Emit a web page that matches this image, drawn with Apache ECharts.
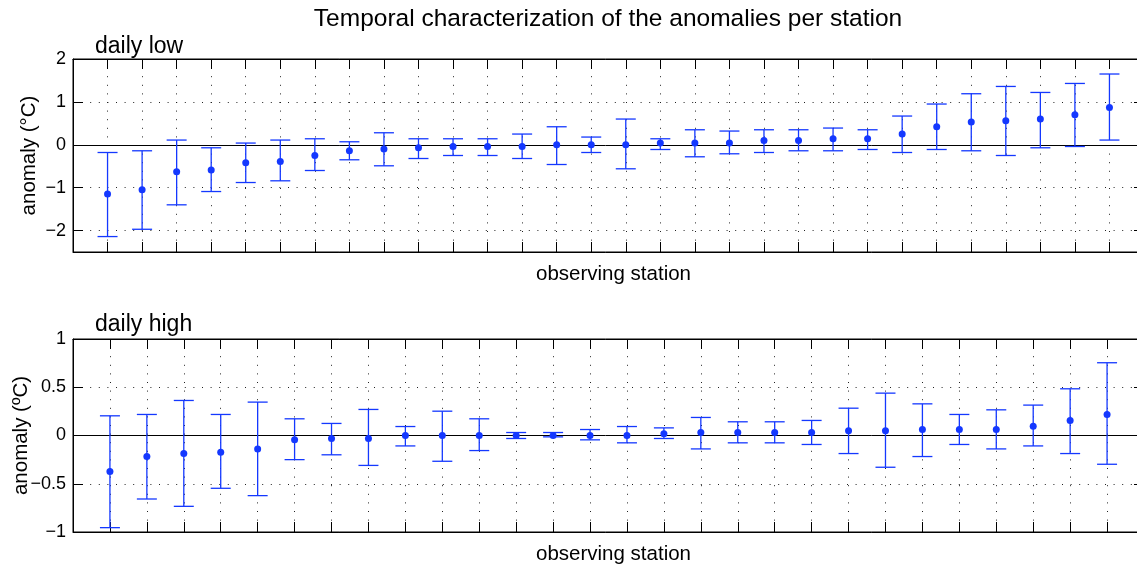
<!DOCTYPE html>
<html>
<head>
<meta charset="utf-8">
<script src="https://cdn.jsdelivr.net/npm/echarts@6/dist/echarts.min.js"></script>
<style>
html,body{margin:0;padding:0;background:#fff;}
#chart{width:1137px;height:568px;}
</style>
</head>
<body>
<div id="chart"></div>
<script>
// ---- data: daily low (30 stations) ----
const lowStations = [1,2,3,4,5,6,7,8,9,10,11,12,13,14,15,16,17,18,19,20,21,22,23,24,25,26,27,28,29,30];
const lowMean  = [-1.15,-1.05,-0.63,-0.59,-0.42,-0.39,-0.25,-0.14,-0.10,-0.07,-0.04,-0.04,-0.04,0.00,0.00,0.00,0.04,0.04,0.04,0.10,0.10,0.14,0.14,0.25,0.42,0.53,0.56,0.60,0.70,0.87];
const lowLower = [-2.14,-1.97,-1.40,-1.09,-0.88,-0.84,-0.60,-0.35,-0.49,-0.32,-0.25,-0.25,-0.32,-0.46,-0.18,-0.56,-0.11,-0.28,-0.21,-0.18,-0.14,-0.14,-0.11,-0.18,-0.11,-0.14,-0.25,-0.07,-0.04,0.11];
const lowUpper = [-0.18,-0.14,0.11,-0.07,0.04,0.11,0.14,0.07,0.28,0.14,0.14,0.14,0.25,0.42,0.18,0.60,0.14,0.35,0.32,0.35,0.35,0.39,0.35,0.67,0.95,1.19,1.36,1.22,1.43,1.65];
const lowTicks = [-2,-1,0,1,2];

// ---- data: daily high (28 stations) ----
const highStations = [1,2,3,4,5,6,7,8,9,10,11,12,13,14,15,16,17,18,19,20,21,22,23,24,25,26,27,28];
const highMean  = [-0.374,-0.218,-0.187,-0.173,-0.139,-0.045,-0.031,-0.031,0.0,0.0,0.0,0.0,0.0,0.0,0.0,0.017,0.031,0.031,0.031,0.031,0.048,0.048,0.062,0.062,0.062,0.097,0.156,0.218];
const highLower = [-0.955,-0.658,-0.734,-0.547,-0.623,-0.25,-0.20,-0.31,-0.108,-0.267,-0.156,-0.031,-0.014,-0.045,-0.076,-0.031,-0.139,-0.076,-0.076,-0.093,-0.187,-0.329,-0.218,-0.093,-0.139,-0.108,-0.187,-0.298];
const highUpper = [0.204,0.218,0.363,0.218,0.346,0.173,0.125,0.27,0.093,0.252,0.173,0.031,0.031,0.062,0.093,0.079,0.187,0.142,0.142,0.156,0.283,0.439,0.328,0.218,0.266,0.315,0.484,0.754];
const highTicks = [-1,-0.5,0,0.5,1];

const FONT = '"Liberation Sans", Arial, Helvetica, sans-serif';
const BLUE = '#1438ff';
const minus = v => String(v).replace('-', '\u2212');

const chart = echarts.init(document.getElementById('chart'), null, {renderer: 'canvas'});

const grids = [
  {left: 73, top: 59, width: 1071, height: 193, show: true, borderColor: '#000', borderWidth: 1, containLabel: false, outerBoundsMode: 'none'},
  {left: 73, top: 339, width: 1071, height: 193, show: true, borderColor: '#000', borderWidth: 1, containLabel: false, outerBoundsMode: 'none'}
];

function xAxes(gi, max) {
  return [
    {type: 'value', gridIndex: gi, min: 0, max: max, interval: 1, position: 'bottom',
     name: 'observing station', nameLocation: 'middle', nameGap: 12, nameMoveOverlap: false,
     nameTextStyle: {fontFamily: FONT, fontSize: 20.5, color: '#000', padding: [0, 0, 0, 10]},
     axisLine: {show: true, onZero: false, lineStyle: {color: '#000', width: 1}},
     axisTick: {show: true, inside: true, length: 10, lineStyle: {color: '#000', width: 1}},
     axisLabel: {show: false},
     splitLine: {show: true, lineStyle: {color: '#222', width: 1, type: [1, 7.6]}}},
    {type: 'value', gridIndex: gi, min: 0, max: max, interval: 1, position: 'top',
     axisLine: {show: true, onZero: false, lineStyle: {color: '#000', width: 1}},
     axisTick: {show: true, inside: true, length: 10, lineStyle: {color: '#000', width: 1}},
     axisLabel: {show: false}, splitLine: {show: false}}
  ];
}
function yAxes(gi, min, max, ticks, nameText, gap) {
  return [
    {type: 'value', gridIndex: gi, min: min, max: max, position: 'left',
     name: nameText, nameLocation: 'middle', nameGap: gap, nameRotate: 90, nameMoveOverlap: false,
     nameTextStyle: {fontFamily: FONT, fontSize: 20.5, color: '#000'},
     axisLine: {show: true, onZero: false, lineStyle: {color: '#000', width: 1}},
     axisTick: {show: true, inside: true, length: 10, customValues: ticks, lineStyle: {color: '#000', width: 1}},
     axisLabel: {show: true, customValues: ticks, margin: 7, fontFamily: FONT, fontSize: 18, color: '#000', formatter: minus},
     splitLine: {show: true, lineStyle: {color: '#222', width: 1, type: [1, 7.6]}}},
    {type: 'value', gridIndex: gi, min: min, max: max, position: 'right',
     axisLine: {show: true, onZero: false, lineStyle: {color: '#000', width: 1}},
     axisTick: {show: true, inside: true, length: 10, customValues: ticks, lineStyle: {color: '#000', width: 1}},
     axisLabel: {show: false}, splitLine: {show: false}}
  ];
}

function errorSeries(xi, yi, stations, lower, upper) {
  return {
    type: 'custom', xAxisIndex: xi, yAxisIndex: yi, silent: true,
    data: stations.map((s, i) => [s, lower[i], upper[i]]),
    encode: {x: 0, y: [1, 2]},
    renderItem: function (params, api) {
      const x = api.value(0);
      const lo = api.coord([x, api.value(1)]);
      const hi = api.coord([x, api.value(2)]);
      const half = 10;
      const st = {stroke: BLUE, lineWidth: 1.3};
      return {type: 'group', children: [
        {type: 'line', shape: {x1: hi[0], y1: hi[1], x2: lo[0], y2: lo[1]}, style: st},
        {type: 'line', shape: {x1: hi[0] - half, y1: hi[1], x2: hi[0] + half, y2: hi[1]}, style: st},
        {type: 'line', shape: {x1: lo[0] - half, y1: lo[1], x2: lo[0] + half, y2: lo[1]}, style: st}
      ]};
    },
    z: 3
  };
}
function meanSeries(xi, yi, stations, mean) {
  return {
    type: 'scatter', xAxisIndex: xi, yAxisIndex: yi, silent: true,
    data: stations.map((s, i) => [s, mean[i]]),
    symbol: 'circle', symbolSize: 7,
    itemStyle: {color: BLUE, opacity: 1},
    z: 4,
    markLine: {silent: true, symbol: 'none', label: {show: false},
      lineStyle: {color: '#000', width: 1, type: 'solid'},
      data: [{yAxis: 0}], z: 2}
  };
}

const option = {
  animation: false,
  backgroundColor: '#fff',
  textStyle: {fontFamily: FONT},
  grid: grids,
  xAxis: [...xAxes(0, 31), ...xAxes(1, 29)],
  yAxis: [...yAxes(0, -2.5, 2, lowTicks, 'anomaly (\u00B0C)', 33), ...yAxes(1, -1, 1, highTicks, 'anomaly (\u00BAC)', 41)],
  graphic: [
    {type: 'text', x: 608, y: 19, style: {text: 'Temporal characterization of the anomalies per station', font: '24.5px ' + FONT, fill: '#000', align: 'center', verticalAlign: 'middle'}},
    {type: 'text', x: 95, y: 47, style: {text: 'daily low', font: '23px ' + FONT, fill: '#000', align: 'left', verticalAlign: 'middle'}},
    {type: 'text', x: 95, y: 325, style: {text: 'daily high', font: '23px ' + FONT, fill: '#000', align: 'left', verticalAlign: 'middle'}}
  ],
  series: [
    errorSeries(0, 0, lowStations, lowLower, lowUpper),
    meanSeries(0, 0, lowStations, lowMean),
    errorSeries(2, 2, highStations, highLower, highUpper),
    meanSeries(2, 2, highStations, highMean)
  ]
};
chart.setOption(option);
</script>
</body>
</html>
